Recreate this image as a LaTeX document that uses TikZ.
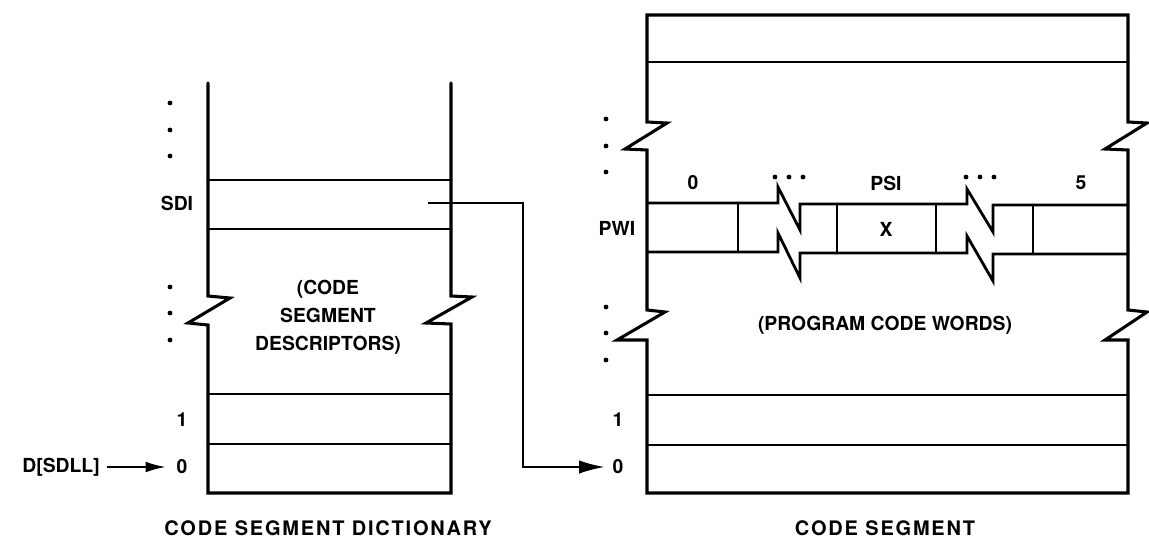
\documentclass[tikz,border=0pt]{standalone}
\usepackage{fontspec}
\setmainfont{TeX Gyre Heros}
\usetikzlibrary{arrows.meta}
\begin{document}
\begin{tikzpicture}[x=0.75pt,y=-0.75pt,
  box/.style={line width=2.3pt, line join=miter, line cap=round},
  rowline/.style={line width=2.1pt, line cap=round},
  lbl/.style={inner sep=0pt, font=\fontsize{14.5}{21}\selectfont\bfseries},
  captext/.style={inner sep=0pt, font=\fontsize{15}{18}\selectfont\bfseries\addfontfeature{LetterSpace=9}},
  ptr/.style={line width=1.1pt, -{Latex[length=19pt,width=10pt]}},
  ptrs/.style={line width=1.3pt, -{Latex[length=15pt,width=8pt]}},
  vdot/.style={radius=1.8pt}]
\useasboundingbox (0,0) rectangle (1149,540);

% ---------------- left box: code segment dictionary ----------------
\draw[box] (208,83) -- (208,296) -- (230,298) -- (188,323) -- (208,325) -- (208,493)
  -- (451,493) -- (451,324) -- (426,323) -- (472,297) -- (451,296) -- (451,83);
\draw[rowline] (208,180) -- (451,180);
\draw[rowline] (208,229) -- (451,229);
\draw[rowline] (208,394) -- (451,394);
\draw[rowline] (208,444) -- (451,444);

\foreach \y in {103,130,156,287,313,340} \fill (170,\y) circle[vdot];

\node[lbl] (sdi) at (177,203) {SDI};
\node[lbl] (l1) at (182,420) {1};
\node[lbl] (l0) at (182,467) {0};
\node[lbl, anchor=east] (dsdll) at (100,467) {D[SDLL]};
\node[lbl, align=center] (csd) at (328,317) {(CODE\\SEGMENT\\DESCRIPTORS)};
\node[captext] (capl) at (328,528) {CODE SEGMENT DICTIONARY};

% ---------------- right box: code segment ----------------
\draw[box] (647,15) -- (647,122) -- (667,123) -- (625,149) -- (647,150) -- (647,310)
  -- (665,312) -- (617,340) -- (647,340) -- (647,493)
  -- (1128,493) -- (1128,340) -- (1105,340) -- (1147,312) -- (1128,310) -- (1128,150)
  -- (1105,149) -- (1147,123) -- (1128,122) -- (1128,15) -- cycle;
\draw[rowline] (647,62) -- (1128,62);
\draw[rowline] (647,395) -- (1128,395);
\draw[rowline] (647,445) -- (1128,445);

% PW row with breaks
\draw[rowline, line join=miter] (647,203) -- (778,203) -- (778,187) -- (800,230) -- (800,204)
  -- (967,204) -- (967,189) -- (993,232) -- (993,205) -- (1128,205);
\draw[rowline, line join=miter] (647,252) -- (778,252) -- (778,233) -- (800,278) -- (800,253)
  -- (967,253) -- (967,236) -- (993,281) -- (993,254) -- (1128,254);
\foreach \x/\a/\b in {738/203/252, 837/204/253, 936/204/253, 1033/205/254}
  \draw[rowline] (\x,\a) -- (\x,\b);

\foreach \y in {119,146,172,307,333,360} \fill (606,\y) circle[vdot];
\foreach \x in {775,789,803,966,980,994} \fill (\x,177) circle[vdot];

\node[lbl] (c0) at (693,183) {0};
\node[lbl] (psi) at (886,183) {PSI};
\node[lbl] (c5) at (1081,183) {5};
\node[lbl] (pwi) at (617,228) {PWI};
\node[lbl] (x) at (886,229) {X};
\node[lbl] (pcw) at (885,325) {(PROGRAM CODE WORDS)};
\node[lbl] (r1) at (618,420) {1};
\node[lbl] (r0) at (618,467) {0};
\node[captext] (capr) at (885,528) {CODE SEGMENT};

% ---------------- connectors ----------------
\coordinate (sdiptr) at (428,203);
\coordinate (bend) at (523,203);
\draw[ptr] (sdiptr) -- (bend) |- ([xshift=-6pt]r0.west);
\draw[ptrs] ([xshift=5pt]dsdll.east) -- ([xshift=-8pt]l0.west);
\end{tikzpicture}
\end{document}
